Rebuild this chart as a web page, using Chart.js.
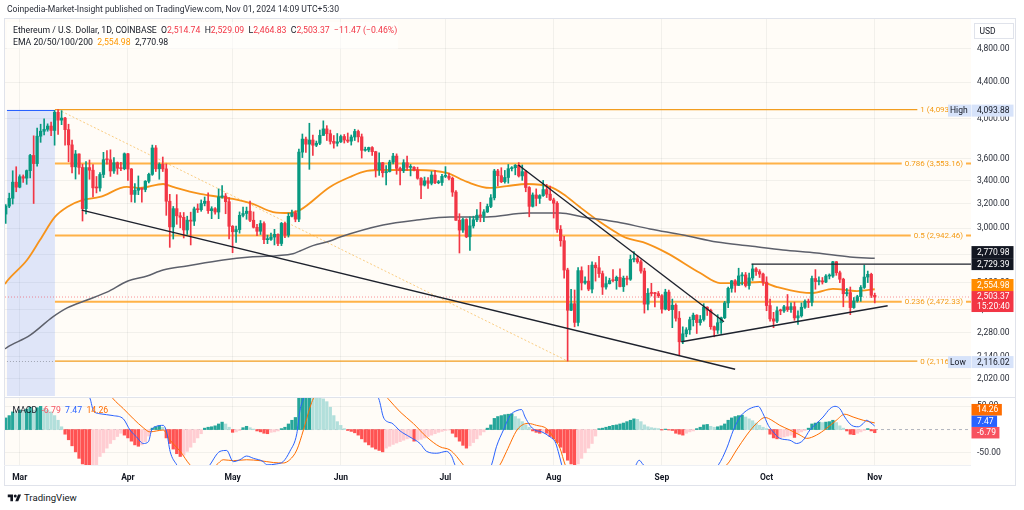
<!DOCTYPE html>
<html>
<head>
<meta charset="utf-8">
<script src="https://cdn.jsdelivr.net/npm/chart.js@4.4.1/dist/chart.umd.min.js"></script>
<style>
html,body{margin:0;padding:0;background:#fff;}
body{width:1024px;height:510px;overflow:hidden;position:relative;font-family:Roboto,"Open Sans",Arial,sans-serif;color:#131722;}
canvas{position:absolute;left:0;}
#cA{top:0;}
#cB{top:397px;}
.t{position:absolute;white-space:nowrap;line-height:1;}
#title{left:7px;top:5px;font-size:8.6px;color:#2a2e39;}
#lg{position:absolute;left:7px;top:22px;width:391px;height:27px;background:rgba(255,255,255,0.55);}
#l1{left:13px;top:26px;font-size:8.7px;}
#l2{left:13px;top:38px;font-size:8.7px;}
.r{color:#f23645}.o{color:#ff9800}.b{color:#2962ff}.mo{color:#ff6d00}.mr{color:#f7525f}
#frame{position:absolute;left:4px;top:18px;width:1012px;height:468px;border:1px solid #e0e3eb;box-sizing:border-box;pointer-events:none;}
#sep{position:absolute;left:4px;top:397px;width:1012px;height:1px;background:#e0e3eb;}
#sep2{position:absolute;left:4px;top:465px;width:967px;height:1px;background:#eef0f4;}
#macdL{left:12.5px;top:406px;font-size:8.7px;}
#logo{position:absolute;left:7px;top:493px;}
#logoT{left:24px;top:493px;font-size:9.6px;color:#131722;}
</style>
</head>
<body>
<canvas id="cA" width="1024" height="397"></canvas>
<canvas id="cB" width="1024" height="93"></canvas>
<div id="frame"></div>
<div id="sep"></div>
<div id="sep2"></div>
<div class="t" id="title">Coinpedia-Market-Insight published on TradingView.com, Nov 01, 2024 14:09 UTC+5:30</div>
<div id="lg"></div>
<div class="t" id="l1">Ethereum / U.S. Dollar, 1D, COINBASE&nbsp; O<span class="r">2,514.74</span>&nbsp; H<span class="r">2,529.09</span>&nbsp; L<span class="r">2,464.83</span>&nbsp; C<span class="r">2,503.37</span>&nbsp; <span class="r">−11.47 (−0.46%)</span></div>
<div class="t" id="l2">EMA 20/50/100/200&nbsp; <span class="o">2,554.98</span>&nbsp; 2,770.98</div>
<div class="t" id="macdL">MACD&nbsp; <span class="mr">-6.79</span>&nbsp; <span class="b">7.47</span>&nbsp; <span class="mo">14.26</span></div>
<svg id="logo" width="15" height="9" viewBox="0 0 36 24"><path d="M14 22H7V11H0V4h14v18zM28 22h-8l7.5-18h8L28 22z" fill="#131722"/><circle cx="20" cy="8" r="4" fill="#131722"/></svg>
<div class="t" id="logoT">TradingView</div>
<script>
// ---------- DATA (day index: 0 = 1 Mar 2024, first candle = 26 Feb 2024) ----------
const startDay = -4;
const opens = [
 3112,3178,3244,3384,
 3340,3433,3420,3488,3630,3553,3818,3868,3888,3921,3876,4066,3982,4004,3884,3732,3523,3644,3517,3157,3516,3492,3334,3333,3453,3590,3589,3485,3561,3510,3506,
 3646,3503,3277,3313,3330,3320,3392,3454,3702,3505,3546,3504,3219,3009,3157,3098,3086,2985,3063,3055,3155,3148,3200,3219,3140,3156,3129,3256,3263,3215,
 3014,2971,2988,3102,3117,3136,3062,3006,2975,3036,2910,2912,2930,2951,2881,3037,2945,3094,3122,3071,3662,3789,3739,3780,3729,3748,3826,3892,3843,3767,3748,
 3762,3815,3780,3769,3810,3866,3812,3679,3682,3706,3666,3497,3561,3469,3480,3567,3624,3509,3487,3561,3518,3519,3494,3419,3358,3396,3374,3448,3379,3381,
 3436,3437,3419,3297,3062,2984,3068,2932,3017,3066,3103,3097,3130,3175,3248,3485,3442,3388,3426,3506,3515,3537,3440,3479,3337,3176,3272,3243,3267,3319,3279,
 3230,3202,2989,2902,2687,2418,2460,2342,2683,2598,2610,2556,2722,2703,2662,2570,2593,2614,2613,2636,2573,2630,2623,2763,2768,2746,2680,2457,2528,2527,2526,
 2512,2425,2536,2422,2450,2368,2226,2273,2297,2359,2387,2341,2360,2438,2418,2316,2295,2340,2371,2465,2561,2612,2581,2646,2653,2580,2632,2695,2676,2659,
 2603,2448,2364,2350,2415,2414,2440,2422,2441,2370,2383,2437,2475,2469,2628,2607,2612,2604,2645,2645,2746,2668,2623,2525,2533,2435,2478,2506,2567,2638,2657,
 2514.74];
const highs = [
 3190,3288,3487,3524,
 3450,3449,3494,3640,3822,3900,3940,3995,3944,3962,4085,4093.88,4083,4012,3940,3780,3678,3645,3548,3572,3587,3545,3435,3470,3660,3676,3684,3610,3568,3566,3654,
 3650,3508,3372,3440,3335,3398,3465,3730,3726,3560,3615,3550,3278,3175,3275,3125,3125,3095,3128,3170,3196,3230,3255,3290,3173,3165,3325,3355,3285,3250,
 3020,3015,3130,3170,3170,3220,3130,3030,3060,3050,2945,2960,2990,2955,3045,3045,3120,3145,3140,3690,3840,3810,3950,3830,3770,3880,3975,3925,3880,3825,3845,
 3830,3835,3850,3830,3888,3880,3840,3710,3710,3715,3670,3655,3565,3535,3585,3650,3645,3520,3590,3625,3545,3525,3520,3425,3430,3425,3480,3490,3400,3455,
 3525,3465,3430,3310,3115,3080,3075,3090,3095,3150,3210,3150,3195,3275,3500,3500,3515,3490,3545,3525,3545,3562,3540,3490,3345,3290,3325,3275,3400,3365,3350,
 3245,3215,3020,2935,2700,2555,2550,2705,2710,2640,2720,2745,2740,2785,2680,2640,2630,2690,2645,2695,2645,2645,2795,2820,2790,2760,2700,2560,2595,2535,2540,
 2520,2555,2550,2490,2460,2410,2315,2310,2375,2400,2390,2385,2460,2440,2425,2320,2390,2375,2475,2570,2615,2620,2700,2670,2670,2665,2729,2705,2690,2665,
 2640,2490,2405,2440,2425,2450,2520,2465,2470,2415,2465,2485,2490,2645,2690,2640,2635,2655,2660,2750,2748,2680,2630,2560,2570,2500,2515,2580,2722,2680,2665,
 2529.09];
const lows = [
 3037,3165,3195,3300,
 3334,3382,3365,3422,3200,3530,3757,3832,3868,3824,3729,3837,3935,3729,3570,3468,3412,3455,3056,3113,3410,3256,3290,3305,3425,3548,3436,3462,3455,3487,3496,
 3400,3213,3209,3275,3210,3300,3377,3445,3480,3410,3480,3102,2852,2915,3030,3002,2923,2950,2870,3020,3125,3135,3180,3118,3075,3112,3075,3245,3115,2915,
 2812,2890,2960,3090,3070,3050,3000,2940,2950,2880,2880,2905,2870,2865,2865,2925,2930,3090,3050,3050,3610,3660,3500,3630,3715,3735,3825,3775,3740,3700,3720,
 3755,3750,3755,3730,3775,3760,3605,3670,3665,3630,3430,3445,3430,3360,3475,3550,3455,3360,3470,3490,3440,3485,3410,3240,3350,3330,3360,3370,3370,3355,
 3425,3405,3260,3060,2810,2965,2925,2830,3000,3050,3050,3050,3125,3165,3230,3350,3380,3375,3375,3485,3450,3430,3400,3300,3090,3170,3180,3200,3260,3250,3225,
 3080,2965,2860,2630,2116.02,2415,2315,2320,2550,2590,2545,2530,2610,2635,2520,2555,2590,2605,2555,2570,2540,2585,2615,2745,2735,2665,2400,2420,2510,2440,2500,
 2400,2420,2415,2310,2350,2150,2215,2255,2270,2320,2275,2325,2350,2385,2300,2255,2275,2275,2365,2435,2535,2535,2580,2585,2570,2555,2615,2650,2635,2580,
 2415,2350,2310,2340,2390,2405,2410,2405,2355,2330,2375,2430,2435,2445,2555,2585,2590,2600,2625,2635,2650,2600,2440,2510,2390,2430,2470,2475,2560,2600,2500,
 2464.83];
const closes = [
 3178,3244,3384,3340,
 3433,3420,3488,3630,3553,3818,3868,3888,3921,3876,4066,3982,4004,3884,3732,3523,3644,3517,3157,3516,3492,3334,3333,3453,3590,3589,3485,3561,3510,3506,3646,
 3503,3277,3313,3330,3320,3392,3454,3702,3505,3546,3504,3219,3009,3157,3098,3086,2985,3063,3055,3155,3148,3200,3219,3140,3156,3129,3256,3263,3215,3014,
 2971,2988,3102,3117,3136,3062,3006,2975,3036,2910,2912,2930,2951,2881,3037,2945,3094,3122,3071,3662,3789,3739,3780,3729,3748,3826,3892,3843,3767,3748,3762,
 3815,3780,3769,3810,3866,3812,3679,3682,3706,3666,3497,3561,3469,3480,3567,3624,3509,3487,3561,3518,3519,3494,3419,3358,3396,3374,3448,3379,3381,3436,
 3437,3419,3297,3062,2984,3068,2932,3017,3066,3103,3097,3130,3175,3248,3485,3442,3388,3426,3506,3515,3537,3440,3479,3337,3176,3272,3243,3267,3319,3279,3230,
 3202,2989,2902,2687,2418,2460,2342,2683,2598,2610,2556,2722,2703,2662,2570,2593,2614,2613,2636,2573,2630,2623,2763,2768,2746,2680,2457,2528,2527,2526,2512,
 2425,2536,2422,2450,2368,2226,2273,2297,2359,2387,2341,2360,2438,2418,2316,2295,2340,2371,2465,2561,2612,2581,2646,2653,2580,2632,2695,2676,2659,2603,
 2448,2364,2350,2415,2414,2440,2422,2441,2370,2383,2437,2475,2469,2628,2607,2612,2604,2645,2645,2746,2668,2623,2525,2533,2435,2478,2506,2567,2638,2657,2514.74,
 2503.37];

const ema50Days = [-4.2,-3.6,2.1,5.8,10.1,13.6,18.1,23,30.7,34.5,41.1,43.9,51.7,61.1,66.8,72.6,77.5,80.3,88.9,94.6,99.5,104.1,113.8,122.4,128.2,134.7,139.6,145.4,152,155.7,160.5,166.3,171.2,174,178.6,185.5,195,200.7,205.5,212.1,217,223.6,227.3,233,239.9,245];
const ema50Vals = [2590,2611,2759,2907,3089,3170,3230,3255,3342,3333,3368,3342,3281,3238,3196,3129,3121,3145,3342,3430,3485,3494,3494,3467,3386,3333,3350,3368,3342,3281,3170,3048,2961,2922,2891,2809,2666,2597,2597,2604,2570,2536,2530,2557,2543,2554.98];
const ema200Days = [-4.2,-3.5,3,9.5,13.6,19.3,25,31,36.5,41.1,47.9,58.3,66,78.3,80.3,84,88.9,91.8,104.1,113.8,123.3,133.9,145.4,154.8,161.4,171.2,180.6,190.1,199.8,209.3,218.7,228.4,237.9,245];
const ema200Vals = [2185,2195,2265,2376,2433,2484,2536,2611,2646,2687,2716,2759,2781,2805,2825,2865,2900,2930,3024,3064,3089,3089,3121,3121,3089,3048,2993,2946,2892,2862,2832,2810,2781,2770.98];

const macdHist = [
 25,30,38,36,42,40,44,48,42,47,
 50,45,42,38,30,20,6,-10,-22,-35,
 -48,-62,-74,-82,-84,-80,-77,-58,-50,-40,
 -30,-22,-15,-8,-12,-18,-25,-33,-36,-33,
 -26,-14,3,6,8,5,-18,-30,-42,-52,
 -58,-55,-47,-38,-28,-18,-9,3,5,6,
 8,12,16,12,5,-6,-5,-2,4,7,
 4,1,-3,-5,-8,-9,-6,-5,-3,2,
 5,12,20,26,68,80,86,88,80,76,
 70,66,60,48,30,17,9,2,-2,-4,
 -7,-12,-20,-27,-33,-38,-42,-45,-48,-40,
 -36,-32,-29,-26,-23,-20,-18,-25,-23,-21,
 -18,-15,-12,-9,-6,-4,-2,-1,-8,-16,
 -25,-34,-40,-35,-28,-20,-12,-5,3,10,
 24,28,30,32,33,34,28,23,17,10,
 5,-3,-6,-8,-5,-8,-15,-20,-28,-38,
 -50,-66,-74,-80,-74,-62,-50,-40,-30,-14,
 2,3,5,7,9,10,12,14,17,20,
 23,22,17,10,6,4,3,2,-1,1,
 -1,-2,-8,-10,-12,-8,-5,-3,2,5,
 10,11,7,5,6,8,12,20,25,28,
 30,31,27,23,19,14,9,5,2,-10,
 -18,-20,-18,-16,-14,-12,-17,-8,-5,-2,
 3,12,14,16,15,16,17,20,15,8,
 3,-3,-10,-11,-8,-5,-2,2,-3,-6.79];
const macdDays = [-4,6,13,18.2,20.2,21.1,23,26.8,29.7,31.6,33.5,35.4,36.9,37.8,39.2,41.1,42.1,43.1,45,48,51,54.5,57.4,59.3,61.2,63.1,65,67,69.8,70.8,73.6,75.5,77.4,79.4,80.3,81.3,85,92,97,101,102.9,104.2,105.6,106.6,109,111.8,114.7,116.6,119.5,122.3,123.8,124.7,127,130,133,135.2,136.6,138.6,140.5,142.5,143.8,144.8,146.2,147.6,149.6,152,153.4,154.3,155.3,158,162,168,173,176.3,177.5,178.7,184,190,196,200.2,202.6,204.5,206.4,208.3,210.2,211.6,213,214.5,215.9,217.8,220.7,222.6,224.5,226.4,228.3,230.2,232.2,233.6,235,236.4,238.4,240.3,241.7,242.7,243.6,245];
const macdVals = [200,255,200,95,66,41,34,30,23,-1,-16,-30,-26,-1,7,9,-5,-47,-76,-110,-115,-76,-47,-45,-69,-65,-57,-62,-69,-76,-74,-69,-47,-9,41,66,150,170,120,80,66,27,16,14,-3,-16,-30,-47,-51,-47,-58,-76,-110,-125,-105,-76,-37,-1,30,41,43,27,9,-1,-5,-16,-26,-47,-76,-160,-210,-170,-110,-80,-66,-76,-100,-115,-100,-76,-40,-1,27,41,48,50,34,9,-5,-19,-23,-30,-23,-1,13,27,45,50,45,27,9,6,13,20,16,7.47];
const signalDays = [-4,8,18,24,26.8,29.7,32.6,35.4,37.3,39.2,41.1,43.1,46,48.8,52,56.4,58.3,61.2,65,68.9,72.7,75.5,77.4,79.4,81.3,83.2,84.1,90,97,102,105.6,109,112.8,116.6,120.4,123.3,125.2,127.1,130,134,137.6,139.5,142.5,144.3,145.8,148.1,151,152.9,154.8,156.3,162,168,175,185,195,202.6,205.4,208.3,211.1,213.6,215.5,217.8,220.7,223.6,225.5,228.3,231.1,234,236.4,238.8,241.7,245];
const signalVals = [170,225,165,95,66,45,23,4,-5,-3,-1,-23,-47,-76,-95,-76,-65,-67,-65,-67,-71,-72,-65,-44,-1,48,66,125,135,95,66,38,13,-16,-37,-44,-58,-76,-95,-100,-76,-47,-1,11,13,9,2,-16,-40,-76,-150,-150,-100,-100,-100,-76,-44,-12,13,26,20,9,-1,-12,-19,-12,2,20,33,27,20,14.26];

const priceTicks = [2020,2140,2280,2420,2600,2800,3000,3200,3400,3600,4000,4400,4800];
const macdTicks = [-50,50];
const monthStarts = [0,31,61,92,122,153,184,214,245];
const monthLabels = ['Mar','Apr','May','Jun','Jul','Aug','Sep','Oct','Nov'];

const fibLevels = [4093.88,3553.16,2942.46,2472.33,2116.02];
const fibLabels = ['1 (4,093.88)','0.786 (3,553.16)','0.5 (2,942.46)','0.236 (2,472.33)','0 (2,116.02)'];
const fibFromDay = 10.1;
const fibTrend = [[11,4093.88],[157,2116.02]];
const rangeDays = [-3.65,10.1];
const trendLines = [
 [[17.8,3145],[205,2071]],
 [[142.9,3540],[201.8,2346]],
 [[189.6,2226],[248.7,2447]],
 [[209.7,2729.39],[272.6,2729.39]]
];
const lastPrice = 2503.37, lastCountdown = '15:20:40';
const ema50Last = 2554.98, ema200Last = 2770.98, resistance = 2729.39;
const macdLast = 7.47, signalLast = 14.26, histLast = -6.79;

// ---------- VIEW ----------
const xMin = -4.21, xMax = 272.58;
const yMin = 1930.7, yMax = 5193;
const macdMin = -76.3, macdMax = 67.9;
const FONT = 'Roboto, "Open Sans", sans-serif';
const PANE = '#fffcf7';
const GRID = 'rgba(42,46,57,0.06)';
const UP = '#089981', DOWN = '#f23645';
const fmt2 = v => Number(v).toLocaleString('en-US',{minimumFractionDigits:2,maximumFractionDigits:2});
const noPad = s => { s.paddingTop = 0; s.paddingBottom = 0; s.paddingLeft = 0; s.paddingRight = 0; };

const days = closes.map((c,i)=>startDay+i);
const candleCol = closes.map((c,i)=> c>=opens[i] ? UP : DOWN);
const wickData = days.map((d,i)=>({x:d,y:[lows[i],highs[i]]}));
const bodyData = days.map((d,i)=>({x:d,y:[opens[i],closes[i]]}));
const pts = (xs,ys)=>xs.map((x,i)=>({x,y:ys[i]}));
const lineDs = (data,color,width,order,extra)=>Object.assign({type:'line',data,borderColor:color,borderWidth:width,pointRadius:0,fill:false,order},extra||{});

const mainDatasets = [
  {type:'bar',data:wickData,backgroundColor:candleCol,barThickness:1,grouped:false,order:4},
  {type:'bar',data:bodyData,backgroundColor:candleCol,barThickness:2.6,minBarLength:1,grouped:false,order:3},
  lineDs(pts(ema200Days,ema200Vals),'#5d606b',1.5,5,{cubicInterpolationMode:'monotone'}),
  lineDs(pts(ema50Days,ema50Vals),'#f7931a',1.8,5,{cubicInterpolationMode:'monotone'}),
  lineDs([{x:xMin,y:lastPrice},{x:xMax,y:lastPrice}],'rgba(242,54,69,0.55)',1,9,{borderDash:[1,2]}),
  lineDs(fibTrend.map(p=>({x:p[0],y:p[1]})),'rgba(245,166,35,0.55)',1,9,{borderDash:[2,2]}),
];
fibLevels.forEach((v,i)=>{
  const edge = (i===0||i===fibLevels.length-1);
  mainDatasets.push(lineDs([{x:fibFromDay,y:v},{x:xMax,y:v}], edge?'#f29d1f':'rgba(255,165,40,0.85)', edge?1.2:2, 10));
});
trendLines.forEach(t=>mainDatasets.push(lineDs(t.map(p=>({x:p[0],y:p[1]})),'#1e222d',1.4,1)));

function badge(ctx,left,cy,w,h,bg,fg,lines,stroke){
  ctx.fillStyle=bg; ctx.fillRect(left,cy-h/2,w,h);
  if(stroke){ctx.strokeStyle=stroke;ctx.lineWidth=1;ctx.strokeRect(left+0.5,cy-h/2+0.5,w-1,h-1);}
  ctx.fillStyle=fg; ctx.textAlign='left'; ctx.textBaseline='middle';
  lines.forEach((t,i)=>ctx.fillText(t,left+5.5,cy-(lines.length-1)*5.25+i*10.5+0.5));
}

const mainDecor = {
  id:'mainDecor',
  beforeDraw(chart){
    const {ctx,chartArea:a}=chart;
    ctx.save(); ctx.fillStyle=PANE; ctx.fillRect(a.left,a.top,a.right-a.left,a.bottom-a.top); ctx.restore();
  },
  beforeDatasetsDraw(chart){
    const {ctx,chartArea:a,scales:{x,y}}=chart;
    const x0=x.getPixelForValue(rangeDays[0]), x1=x.getPixelForValue(rangeDays[1]);
    const y0=y.getPixelForValue(fibLevels[0]);
    ctx.save();
    ctx.fillStyle='rgba(41,98,255,0.15)'; ctx.fillRect(x0,y0,x1-x0,a.bottom-y0);
    ctx.strokeStyle='#2962ff'; ctx.lineWidth=1;
    ctx.beginPath(); ctx.moveTo(x0,Math.round(y0)+0.5); ctx.lineTo(x1,Math.round(y0)+0.5); ctx.stroke();
    const yl=y.getPixelForValue(fibLevels[fibLevels.length-1]);
    ctx.strokeStyle='rgba(120,123,134,0.6)'; ctx.setLineDash([1,2]);
    ctx.beginPath(); ctx.moveTo(x0,Math.round(yl)+0.5); ctx.lineTo(x1,Math.round(yl)+0.5); ctx.stroke();
    ctx.restore();
  },
  afterDraw(chart){
    const {ctx,chartArea:a,scales:{y}}=chart;
    ctx.save();
    ctx.font='8px '+FONT; ctx.textAlign='right'; ctx.textBaseline='middle';
    fibLevels.forEach((v,i)=>{
      const py=y.getPixelForValue(v), t=fibLabels[i], w=ctx.measureText(t).width, xr=a.right-8;
      ctx.fillStyle=PANE; ctx.fillRect(xr-w-3,py-4,w+6,8);
      ctx.fillStyle='#f49b16'; ctx.fillText(t,xr,py+0.5);
    });
    ctx.font='8.5px '+FONT;
    const L=a.right+0.5, W=42, H=12;
    badge(ctx,L+2.5,31,40,16,'#fff','#131722',['USD'],'#e0e3eb');
    [[fibLevels[0],'High'],[fibLevels[fibLevels.length-1],'Low']].forEach(([v,lab])=>{
      const cy=y.getPixelForValue(v)+1;
      ctx.fillStyle='#d7e3fa'; ctx.fillRect(a.right-23,cy-6,23,12);
      ctx.fillStyle='#131722'; ctx.textAlign='left'; ctx.textBaseline='middle'; ctx.fillText(lab,a.right-21,cy+0.5);
      badge(ctx,L,cy,W,H,'#d7e3fa','#131722',[fmt2(v)]);
    });
    const redTop=y.getPixelForValue(lastPrice)-6;
    badge(ctx,L,redTop+10.5,W,21,DOWN,'#fff',[fmt2(lastPrice),lastCountdown]);
    let top=redTop;
    const items=[[ema50Last,'#ff8c00'],[resistance,'#131722'],[ema200Last,'#131722']];
    items.forEach(([v,bg])=>{
      let cy=y.getPixelForValue(v); if(cy+H/2>top) cy=top-H/2;
      badge(ctx,L,cy,W,H,bg,'#fff',[fmt2(v)]); top=cy-H/2;
    });
    ctx.restore();
  }
};

new Chart(document.getElementById('cA'),{
  type:'bar',
  data:{datasets:mainDatasets},
  options:{
    responsive:false,animation:false,devicePixelRatio:1,
    layout:{padding:{left:5,top:19,right:0,bottom:1}},
    plugins:{legend:{display:false},tooltip:{enabled:false}},
    scales:{
      x:{type:'linear',min:xMin,max:xMax,offset:false,
         grid:{color:GRID,drawTicks:false,offset:false},border:{display:false},ticks:{display:false},
         afterBuildTicks:s=>{s.ticks=monthStarts.map(v=>({value:v}));},afterFit:s=>{s.height=0;noPad(s);}},
      y:{type:'logarithmic',position:'right',min:yMin,max:yMax,
         grid:{color:GRID,drawTicks:false},border:{display:false},
         ticks:{autoSkip:false,padding:6,color:'#2a2e39',font:{size:8.5,family:FONT},callback:v=>fmt2(v)},
         afterBuildTicks:s=>{s.ticks=priceTicks.map(v=>({value:v}));},afterFit:s=>{s.width=53;noPad(s);}}
    }
  },
  plugins:[mainDecor]
});

// ---------- MACD pane ----------
const histColors = macdHist.map((v,i)=>{
  const p = i>0 ? macdHist[i-1] : 0;
  if (v>=0) return v>p ? '#26a69a' : '#b2dfdb';
  return v<p ? '#ff5252' : '#ffcdd2';
});
const macdDecor = {
  id:'macdDecor',
  beforeDraw(chart){
    const {ctx,chartArea:a}=chart;
    ctx.save(); ctx.fillStyle=PANE; ctx.fillRect(a.left,a.top,a.right-a.left,a.bottom-a.top); ctx.restore();
  },
  beforeDatasetsDraw(chart){
    const {ctx,chartArea:a,scales:{x}}=chart;
    const x0=x.getPixelForValue(rangeDays[0]), x1=x.getPixelForValue(rangeDays[1]);
    ctx.save(); ctx.fillStyle='rgba(41,98,255,0.15)'; ctx.fillRect(x0,0,x1-x0,a.top); ctx.restore();
  },
  afterDraw(chart){
    const {ctx,chartArea:a,scales:{y}}=chart;
    ctx.save(); ctx.font='8.5px '+FONT;
    const H=11.5;
    let top=1e9;
    [[histLast,'#f7525f'],[macdLast,'#2962ff'],[signalLast,'#ff6d00']].forEach(([v,bg])=>{
      let cy=y.getPixelForValue(v); if(cy+H/2>top) cy=top-H/2;
      const t=fmt2(v), w=ctx.measureText(t).width+9;
      badge(ctx,a.right+0.5,cy,w,H,bg,'#fff',[t]); top=cy-H/2;
    });
    ctx.restore();
  }
};
new Chart(document.getElementById('cB'),{
  type:'bar',
  data:{datasets:[
    lineDs(pts(macdDays,macdVals),'#2962ff',1,1,{cubicInterpolationMode:'monotone'}),
    lineDs(pts(signalDays,signalVals),'#ff6d00',1,2,{cubicInterpolationMode:'monotone'}),
    lineDs([{x:xMin,y:0},{x:xMax,y:0}],'#b2b5be',1,5,{borderDash:[3,3]}),
    {type:'bar',data:days.map((d,i)=>({x:d,y:macdHist[i]})),backgroundColor:histColors,barThickness:2.6,grouped:false,order:3}
  ]},
  options:{
    responsive:false,animation:false,devicePixelRatio:1,
    layout:{padding:{left:5,top:1,right:0,bottom:5}},
    plugins:{legend:{display:false},tooltip:{enabled:false}},
    scales:{
      x:{type:'linear',min:xMin,max:xMax,offset:false,
         grid:{color:GRID,drawTicks:false,offset:false},border:{display:false},
         ticks:{autoSkip:false,maxRotation:0,padding:8,color:'#131722',font:{size:8.5,family:FONT,weight:'bold'},
                callback:v=>{const k=monthStarts.indexOf(v);return k>=0?monthLabels[k]:'';}},
         afterBuildTicks:s=>{s.ticks=monthStarts.map(v=>({value:v}));},afterFit:s=>{s.height=20;noPad(s);}},
      y:{type:'linear',position:'right',min:macdMin,max:macdMax,
         grid:{color:GRID,drawTicks:false},border:{display:false},
         ticks:{autoSkip:false,padding:6,color:'#2a2e39',font:{size:8.5,family:FONT},callback:v=>fmt2(v)},
         afterBuildTicks:s=>{s.ticks=macdTicks.map(v=>({value:v}));},afterFit:s=>{s.width=53;noPad(s);}}
    }
  },
  plugins:[macdDecor]
});
</script>
</body>
</html>
